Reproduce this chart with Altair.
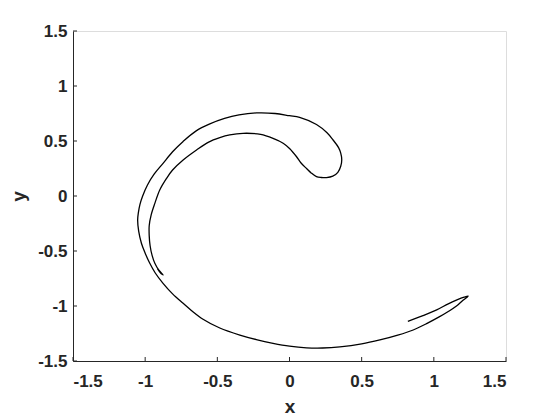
import altair as alt
import pandas as pd

# traced attractor curve (single path, in drawing order)
curve_x = [0.82, 0.92, 1.02, 1.10, 1.16, 1.21, 1.238,
           1.20, 1.157, 1.10, 1.04, 0.95, 0.857, 0.75, 0.626, 0.50, 0.349, 0.23, 0.118, 0.0,
           -0.114, -0.23, -0.344, -0.483, -0.599, -0.68, -0.737, -0.81, -0.876, -0.93, -0.968,
           -1.0, -1.026, -1.045, -1.052, -1.047, -1.036, -1.018, -0.984, -0.938, -0.876, -0.81,
           -0.737, -0.649, -0.552, -0.45, -0.35, -0.229, -0.10, 0.0, 0.07, 0.187, 0.26, 0.302, 0.34,
           0.355, 0.362, 0.355, 0.335, 0.30, 0.256, 0.22, 0.187, 0.15, 0.118, 0.08, 0.049,
           0.002, -0.044, -0.114, -0.2, -0.322, -0.414, -0.483, -0.56, -0.644, -0.737, -0.81,
           -0.852, -0.899, -0.933, -0.958, -0.972, -0.972, -0.966, -0.952, -0.933, -0.905, -0.876,
           -0.893, -0.915]
curve_y = [-1.14, -1.09, -1.035, -0.98, -0.945, -0.92, -0.91,
           -0.95, -1.0, -1.05, -1.097, -1.16, -1.218, -1.265, -1.309, -1.345, -1.372, -1.382, -1.38, -1.365,
           -1.339, -1.305, -1.264, -1.20, -1.12, -1.04, -0.976, -0.89, -0.794, -0.70, -0.612,
           -0.52, -0.43, -0.32, -0.218, -0.151, -0.076, -0.002, 0.10, 0.198, 0.297, 0.402,
           0.496, 0.59, 0.655, 0.705, 0.737, 0.755, 0.75, 0.73, 0.715, 0.65, 0.575, 0.509, 0.44,
           0.39, 0.33, 0.27, 0.215, 0.18, 0.167, 0.168, 0.176, 0.21, 0.25, 0.30, 0.357,
           0.43, 0.48, 0.524, 0.56, 0.57, 0.555, 0.53, 0.49, 0.418, 0.327, 0.236,
           0.16, 0.055, -0.067, -0.17, -0.27, -0.36, -0.45, -0.54, -0.612, -0.675, -0.718,
           -0.70, -0.66]

tick_values = [-1.5, -1.0, -0.5, 0.0, 0.5, 1.0, 1.5]

W, H = 433, 330
FONT = "Liberation Sans"
INK = "#262626"

df = pd.DataFrame({"x": curve_x, "y": curve_y, "i": list(range(len(curve_x)))})
ticks = pd.DataFrame({"v": tick_values})

label_expr = "datum.value < 0 ? '-' + format(abs(datum.value), '~g') : format(datum.value, '~g')"

xscale = alt.Scale(domain=[-1.5, 1.5], nice=False)
yscale = alt.Scale(domain=[-1.5, 1.5], nice=False)

xaxis = alt.Axis(values=tick_values, labelExpr=label_expr, title="x", grid=False,
                 tickSize=0, labelPadding=12, titlePadding=8,
                 labelFont=FONT, labelFontSize=17, labelFontWeight="bold", labelColor=INK,
                 titleFont=FONT, titleFontSize=19, titleFontWeight="bold", titleColor=INK,
                 domainColor=INK, domainWidth=1)
yaxis = alt.Axis(values=tick_values, labelExpr=label_expr, title="y", grid=False,
                 tickSize=0, labelPadding=6, titlePadding=9,
                 labelFont=FONT, labelFontSize=17, labelFontWeight="bold", labelColor=INK,
                 titleFont=FONT, titleFontSize=19, titleFontWeight="bold", titleColor=INK,
                 domainColor=INK, domainWidth=1)

line = alt.Chart(df).mark_line(color="black", strokeWidth=1.3, interpolate="catmull-rom").encode(
    x=alt.X("x:Q", scale=xscale, axis=xaxis),
    y=alt.Y("y:Q", scale=yscale, axis=yaxis),
    order="i:O",
)

xticks = alt.Chart(ticks).mark_rule(color=INK, strokeWidth=1).encode(
    x=alt.X("v:Q", scale=xscale),
    y=alt.value(H), y2=alt.value(H - 4),
)
yticks = alt.Chart(ticks).mark_rule(color=INK, strokeWidth=1).encode(
    y=alt.Y("v:Q", scale=yscale),
    x=alt.value(0), x2=alt.value(4),
)

chart = alt.layer(line, xticks, yticks).properties(
    width=W, height=H,
    autosize=alt.AutoSizeParams(type="none"),
    padding={"left": 65, "top": 23, "right": 30, "bottom": 57},
).configure_view(stroke=None).configure(background="white")

chart.save("out.html", embed_options={"renderer": "svg", "actions": False})
